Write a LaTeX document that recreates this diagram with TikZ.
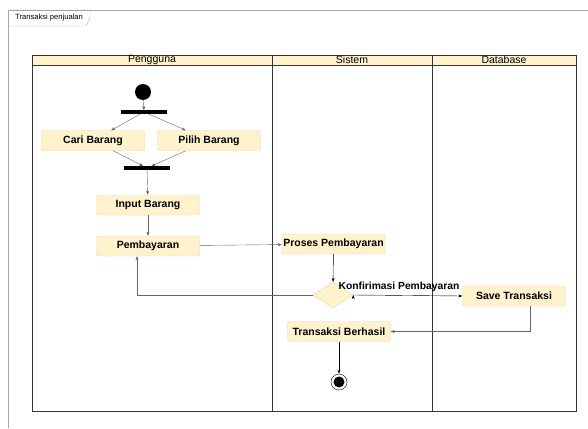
\documentclass[tikz,border=0pt]{standalone}
\usepackage{fontspec}
\setmainfont{Liberation Sans}
\usepackage{tikz}
\usetikzlibrary{arrows.meta,shapes.geometric}

\definecolor{laneFill}{HTML}{FFF2CC}
\definecolor{actFill}{HTML}{FFF2CC}
\definecolor{actLine}{HTML}{E6D7A8}
\definecolor{edgeGray}{HTML}{666666}

\begin{document}
\begin{tikzpicture}[x=1pt, y=-1pt, >={Stealth[length=4pt,width=3pt]}]
    \tikzstyle{activity}=[
        draw = actLine,
        fill = actFill,
        rounded corners = 2pt,
        minimum width = 103pt,
        minimum height = 20pt,
        inner sep = 1pt,
        font = \fontsize{10.5}{12}\selectfont\bfseries
    ]
    \tikzstyle{bar}=[
        fill = black,
        minimum width = 46pt,
        minimum height = 3.5pt,
        inner sep = 0pt
    ]
    \tikzstyle{lane title}=[
        font = \fontsize{10.5}{12}\selectfont,
        inner sep = 0pt
    ]
    \tikzstyle{flow}=[->, draw = edgeGray, thin]

    \useasboundingbox (0,0) rectangle (588,428);

    % frame and tab
    \draw[gray!70] (8,428) -- (8,10) -- (588,10);
    \draw[gray!70] (8,10) -- (90,10) -- (90,18) -- (86,26) -- (8,26);
    \node[font=\fontsize{7.6}{9}\selectfont, anchor=west, inner sep=0pt] (tab) at (15,18) {Transaksi penjualan};

    % swimlanes
    \fill[laneFill] (32,55) rectangle (576,65);
    \draw[black!80] (32,65) -- (576,65);
    \draw[gray] (32,55) -- (576,55);
    \draw[black!80] (32,55) rectangle (576,411);
    \draw[black!80] (272,55) -- (272,411);
    \draw[black!80] (432,55) -- (432,411);
    \node[lane title] (user) at (152,60) {Pengguna};
    \node[lane title] (sys)  at (352,60) {Sistem};
    \node[lane title] (db)   at (504,60) {Database};

    % nodes
    \node[circle, fill=black, minimum size=16pt, inner sep=0pt] (start) at (143,92) {};
    \node[bar]      (fork)  at (144,112)   {};
    \node[activity] (cari)  at (93,140.5)  {Cari Barang};
    \node[activity] (pilih) at (209,140.5) {Pilih Barang};
    \node[bar]      (join)  at (147,168)   {};
    \node[activity] (input) at (148,205)   {Input Barang};
    \node[activity] (pay)   at (148,246)   {Pembayaran};
    \node[activity] (proc)  at (333.5,244) {Proses Pembayaran};
    \node[diamond, draw=actLine, fill=actFill, minimum width=40pt, minimum height=26pt,
          inner sep=0pt, aspect=1.6] (dec) at (333,295) {};
    \node[activity] (save)  at (514,296)   {Save Transaksi};
    \node[activity] (ok)    at (339,331.5) {Transaksi Berhasil};
    \node[circle, draw=black, fill=white, minimum size=16pt, inner sep=0pt] (end) at (339,382) {};
    \node[circle, fill=black, minimum size=11pt, inner sep=0pt] (endDot) at (end) {};

    % flows
    \path[flow] (start) edge (fork);
    \path[flow] (fork) edge (cari);
    \path[flow] (fork) edge (pilih);
    \path[flow] (cari) edge (join);
    \path[flow] (pilih) edge (join);
    \path[flow] (join) edge (input);
    \path[flow] (input) edge (pay);
    \path[flow] (pay) edge (proc);
    \path[flow, draw=black] (proc) edge (dec);
    \draw[flow] (dec.west) -| ([xshift=-11pt]pay.south);
    \path[->, draw=black] (dec.east) edge node[pos=0.42, above=0pt,
          font=\fontsize{10.3}{12}\selectfont\bfseries] {Konfirimasi Pembayaran} (save.west);
    \draw[flow] ([xshift=16pt]save.south) |- (ok.east);
    \path[flow, draw=black] (ok) edge (end);

\end{tikzpicture}
\end{document}
